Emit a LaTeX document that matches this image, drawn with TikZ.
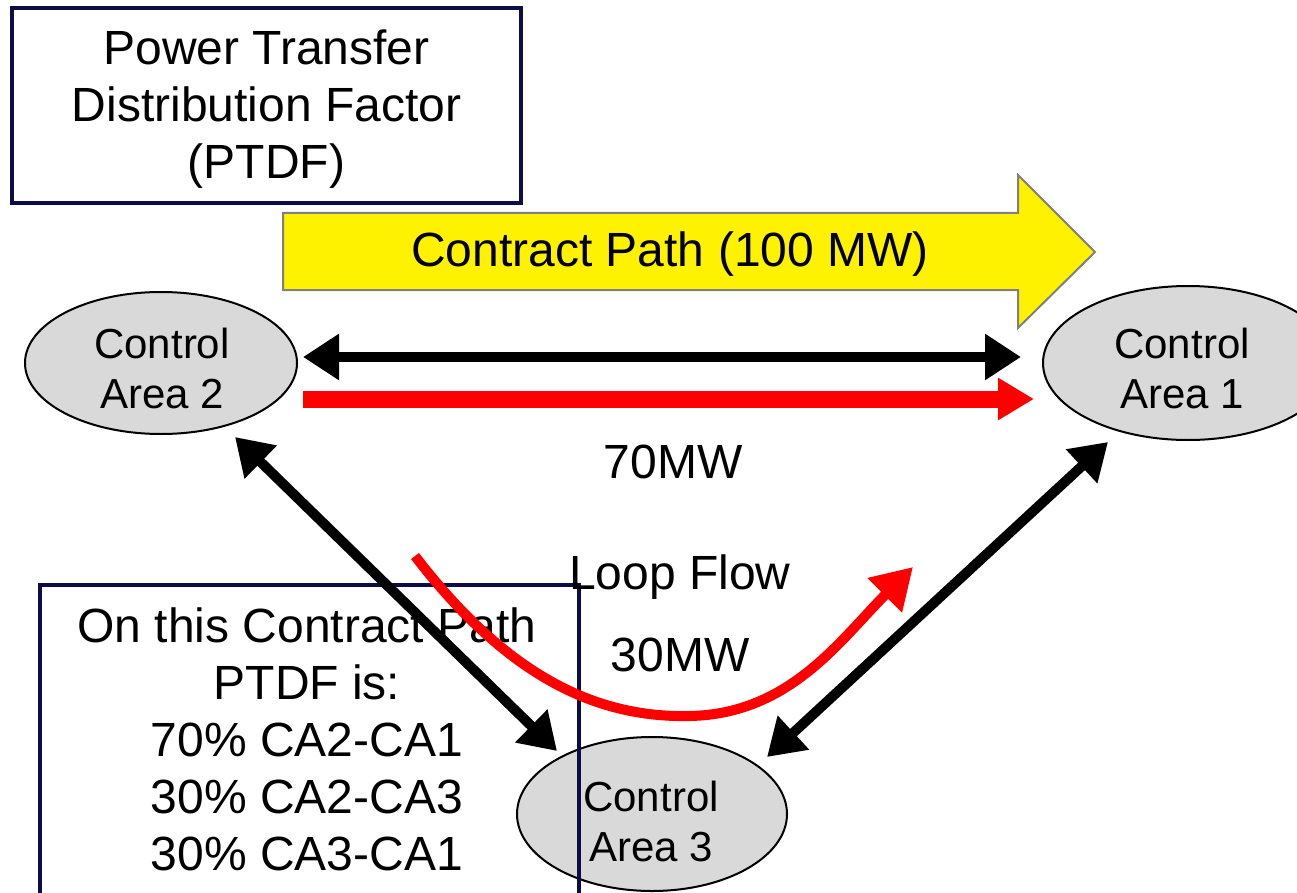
\documentclass[tikz,border=0pt]{standalone}
\usepackage{fontspec}
\setmainfont{Liberation Sans}
\usetikzlibrary{arrows.meta,shapes.geometric}
\definecolor{navyb}{RGB}{12,12,72}
\definecolor{areagray}{RGB}{217,217,217}
\definecolor{arrowgray}{RGB}{128,128,128}
\begin{document}
\begin{tikzpicture}[x=1pt,y=-1pt,
  big/.style={font=\fontsize{48}{57}\selectfont, align=center, inner sep=0pt},
  area/.style={ellipse, draw=black, line width=2pt, fill=areagray, inner sep=0pt},
  areatext/.style={font=\fontsize{42}{50}\selectfont, align=center, inner sep=0pt},
  framebox/.style={draw=navyb, line width=4pt, inner sep=0pt},
  dblarrow/.style={line width=10pt,
    {Triangle[length=36pt,width=44pt]}-{Triangle[length=36pt,width=44pt]}},
  redflow/.style={draw=red, line width=17pt, -{Triangle[length=36pt,width=40pt]}},
  loopflow/.style={draw=red, line width=10pt, -{Triangle[length=40pt,width=46pt]}},
  contract/.style={fill=yellow, draw=arrowgray, line width=2pt, line join=miter}
]
\useasboundingbox (0,0) rectangle (1297,893);

% control areas
\node[area, minimum width=272pt, minimum height=142pt] (ca2) at (161,363) {};
\node[areatext] (ca2t) at (162,368) {Control\\Area 2};
\node[area, minimum width=290pt, minimum height=154pt] (ca1) at (1188,363) {};
\node[areatext] (ca1t) at (1182,368) {Control\\Area 1};
\node[area, minimum width=270pt, minimum height=154pt] (ca3) at (652,814) {};
\node[areatext] (ca3t) at (651,821) {Control\\Area 3};

% PTDF title box
\node[framebox, minimum width=509pt, minimum height=195pt] (ptdf) at (266.5,105.5) {};
\node[big] (ptdftxt) at (266.5,109) {Power Transfer\\Distribution Factor\\(PTDF)};

% contract path arrow
\draw[contract] (283,213) -- (1018,213) -- (1018,175) -- (1095,252) -- (1018,328)
  -- (1018,290) -- (283,290) -- cycle;
\node[big] (cp) at (670,254) {Contract Path (100 MW)};

% PTDF explanation box
\node[framebox, anchor=north west, minimum width=539pt, minimum height=340pt] (pbox) at (38,583) {};
\node[big] (ptxt) at (307,739) {On this Contract Path\\PTDF is:\\70\% CA2-CA1\\30\% CA2-CA3\\30\% CA3-CA1};

% connectors between control areas
\draw[dblarrow] ([shift={(5,-6)}]ca2.east) -- ([shift={(-21,-6)}]ca1.west);
\draw[dblarrow] ([shift={(74,2)}]ca2.south) -- ([shift={(-95,15)}]ca3.north);
\draw[dblarrow] ([shift={(-80,1)}]ca1.south) -- ([shift={(115,21)}]ca3.north);

% flows
\draw[redflow] ([shift={(5,36)}]ca2.east) -- ([shift={(-8,36)}]ca1.west);
\coordinate (lfs) at (415,556);
\coordinate (lfe) at (913,567);
\draw[loopflow] (lfs) .. controls (510,680) and (600,718) .. (690,716)
  .. controls (790,714) and (840,640) .. (lfe);

% labels
\node[big] (l70) at (673,462) {70MW};
\node[big] (lloop) at (680,577) {Loop Flow};
\node[big] (l30) at (680,655) {30MW};
\end{tikzpicture}
\end{document}
